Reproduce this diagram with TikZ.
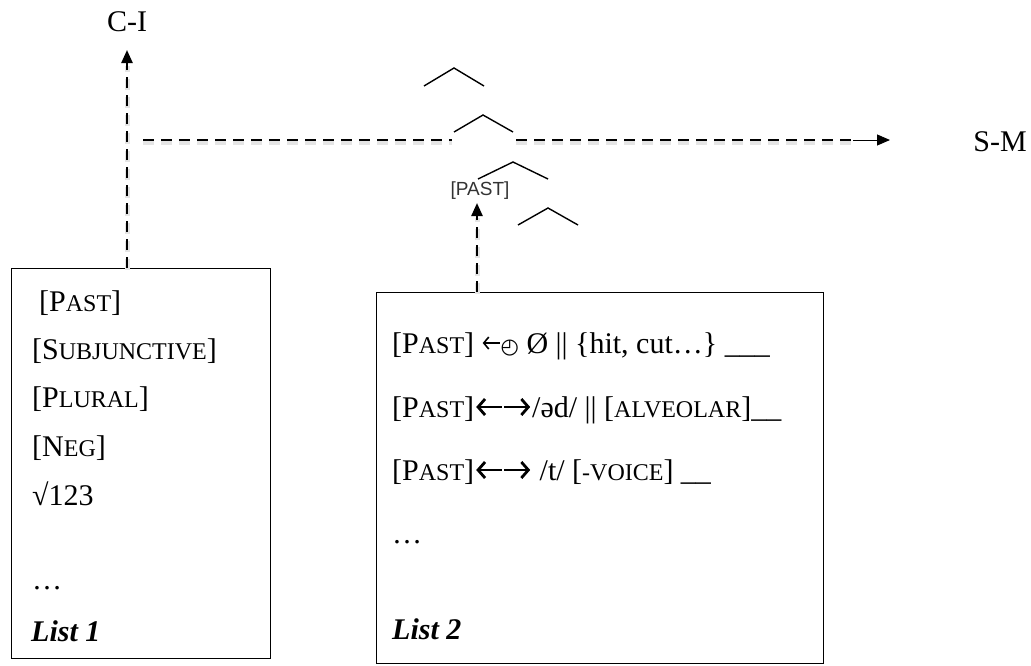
\documentclass[border=0pt]{standalone}
\usepackage{tikz}
\usepackage{fontspec}
\setmainfont{Liberation Serif}
\newfontfamily\sansf{Liberation Sans}
\newfontfamily\dejavu{DejaVu Sans}
\usetikzlibrary{arrows.meta}
\newcommand\sk[1]{{\fontsize{24}{24}\selectfont #1}}
\newsavebox\arrLbox
\newsavebox\arrRbox
\newsavebox\arrSbox
\newcommand\arrL{\usebox\arrSbox}
\newcommand\arrLR{\usebox\arrLbox\usebox\arrRbox}
\newcommand\clk{{\dejavu\fontsize{21}{21}\selectfont ◴}}
\begin{document}
\sbox\arrLbox{\tikz[baseline=-10pt]{\useasboundingbox (0pt,-9pt) rectangle (29pt,9pt);
  \draw[line width=2.8pt, {Straight Barb[length=7pt,width=16pt]}-] (2pt,0) -- (28pt,0);}}%
\sbox\arrRbox{\tikz[baseline=-10pt]{\useasboundingbox (0pt,-9pt) rectangle (29pt,9pt);
  \draw[line width=2.8pt, -{Straight Barb[length=7pt,width=16pt]}] (1pt,0) -- (27pt,0);}}%
\sbox\arrSbox{\tikz[baseline=-10pt]{\useasboundingbox (0pt,-7pt) rectangle (19pt,7pt);
  \draw[line width=1.6pt, {Straight Barb[length=5pt,width=12pt]}-] (1pt,0) -- (18pt,0);}}%
\begin{tikzpicture}[x=1pt,y=-1pt,
  txt/.style={font=\fontsize{30}{30}\selectfont, inner sep=0pt, anchor=base west},
  lbl/.style={font=\fontsize{30}{30}\selectfont, inner sep=0pt},
  listbox/.style={draw, line width=1.3pt, anchor=north west, inner sep=0pt},
  dashln/.style={line width=2.4pt, dash pattern=on 11pt off 7pt,
     preaction={draw=black!10, line width=5pt, dash pattern=on 11pt off 7pt, transform canvas={yshift=-2pt}}},
  caret/.style={line width=1.4pt},
  tip/.style={-{Triangle[length=13pt,width=11pt]}, line width=2.4pt}]
\useasboundingbox (0,0) rectangle (1031,665);

% boxes
\node[listbox, minimum width=259pt, minimum height=390pt] (box1) at (11,268) {};
\node[listbox, minimum width=447pt, minimum height=371pt] (box2) at (376,292) {};

% labels
\node[lbl] (ci) at (127,22) {C-I};
\node[lbl] (sm) at (1000,142) {S-M};
\node[inner sep=0pt, font=\sansf\fontsize{19}{19}\selectfont, text=black!80] (past) at (480,191) {[PAST]};

% box 1 contents
\node[txt] (l1a) at (39,311) {[P\sk{AST}]};
\node[txt] (l1b) at (32,359) {[S\sk{UBJUNCTIVE}]};
\node[txt] (l1c) at (32,407) {[P\sk{LURAL}]};
\node[txt] (l1d) at (32,456) {[N\sk{EG}]};
\node[txt] (l1e) at (32,505) {√123};
\node[txt] (l1f) at (32,589) {…};
\node[txt] (l1g) at (31,641) {\textbf{\textit{List 1}}};

% box 2 contents
\node[txt] (l2a) at (392,353) {[P\sk{AST}] \arrL\clk\ Ø || \{hit, cut…\} \_\_\_};
\node[txt] (l2b) at (392,417) {[P\sk{AST}]\arrLR/əd/ || [\sk{ALVEOLAR}]\_\_};
\node[txt] (l2c) at (392,480) {[P\sk{AST}]\arrLR\ /t/ [\sk{-VOICE}] \_\_};
\node[txt] (l2d) at (392,543) {…};
\node[txt] (l2e) at (392,639) {\textbf{\textit{List 2}}};

% tree carets
\draw[caret] (424,86) -- (454,68) -- (484,86);
\draw[caret] (454,132) -- (483,115) -- (513,132);
\draw[caret] (478,179) -- (513,162) -- (548,179);
\draw[caret] (518,225) -- (548,208) -- (578,225);

% connectors
\coordinate (ciFoot) at (ci |- box1.north);
\coordinate (ciTip) at (127,50);
\coordinate (ciMid) at (127,64);
\draw[dashln] (ciFoot) -- (ciMid);
\draw[tip] (ciMid) -- (ciTip);

\coordinate (hL) at (143,140);
\coordinate (hM1) at (452,140);
\coordinate (hM2) at (516,140);
\coordinate (hR) at (853,140);
\coordinate (hTip) at (890,140);
\draw[dashln] (hL) -- (hM1);
\draw[dashln] (hM2) -- (hR);
\draw[-{Triangle[length=13pt,width=11pt]}, line width=1pt] (hR) -- (hTip);

\coordinate (pFoot) at (477,292);
\coordinate (pMid) at (477,216);
\coordinate (pTip) at (477,203);
\draw[dashln] (pFoot) -- (pMid);
\draw[tip] (pMid) -- (pTip);
\end{tikzpicture}
\end{document}
